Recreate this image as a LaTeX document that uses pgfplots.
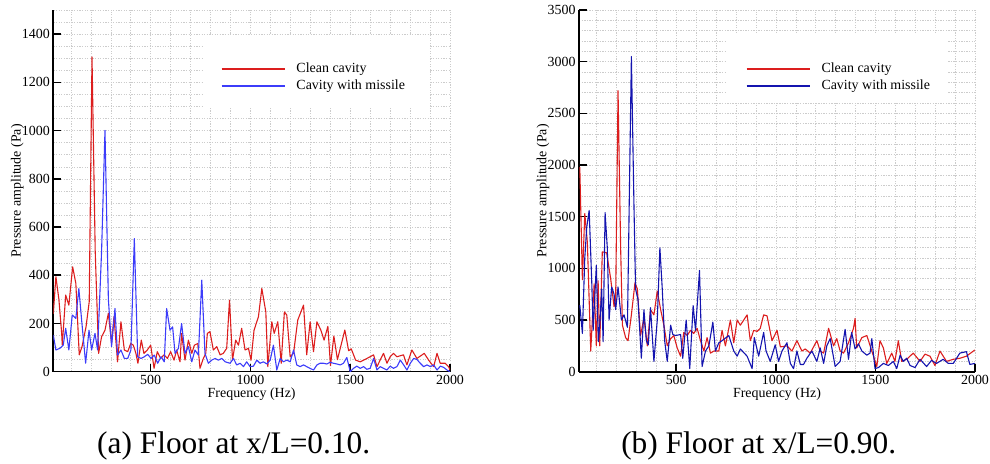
\documentclass[border=0pt]{standalone}
\usepackage{pgfplots}
\pgfplotsset{compat=1.18}
\usepackage{fontspec}
\setmainfont{Liberation Serif}
\definecolor{cred}{RGB}{220,30,30}
\definecolor{cblueL}{RGB}{60,60,250}
\definecolor{cblueR}{RGB}{20,20,175}
\newcommand{\labfont}{\fontsize{14}{16}\selectfont}
\pgfplotsset{
  tecstyle/.style={
    scale only axis,
    axis x line=bottom, axis y line=left,
    axis line style={-, line width=1.6bp, black},
    xmin=12, xmax=2000, ymin=0,
    xtick={500,1000,1500,2000},
    minor xtick={100,200,...,2000},
    tick align=inside,
    major tick length=8bp, minor tick length=0pt,
    every tick/.style={black, line width=1.6bp},
    grid=both,
    grid style={gray!40, line width=0.45bp, dash pattern=on 1.3bp off 1.3bp},
    major grid style={gray!40, line width=0.45bp, dash pattern=on 1.3bp off 1.3bp},
    minor grid style={gray!40, line width=0.45bp, dash pattern=on 1.3bp off 1.3bp},
    /pgf/number format/assume math mode=true,
    /pgf/number format/1000 sep={},
    tick label style={font=\labfont},
    xlabel={Frequency (Hz)},
    ylabel={Pressure amplitude (Pa)},
    every axis x label/.style={at={(axis description cs:0.5,-0.0617)}, anchor=center, font=\labfont},
    every axis y label/.style={at={(axis description cs:-0.0908,0.5)}, rotate=90, anchor=center, font=\labfont},
    legend style={draw=none, fill=none, inner sep=0pt, outer sep=0pt,
      font=\labfont, column sep=11.4bp, row sep=4bp,
      nodes={inner sep=0pt, outer sep=0pt, text height=10bp, text depth=3bp}},
    legend cell align=left,
    legend image code/.code={\draw[#1] (0bp,0bp) -- (63bp,0bp);},
    every axis plot/.append style={line width=1.1bp, line join=round},
  }
}
\begin{document}
\begin{tikzpicture}
\useasboundingbox (0,0) rectangle (990bp,464bp);
% ---------------- left panel ----------------
\begin{axis}[tecstyle, at={(53.3bp,92.3bp)}, anchor=south west,
  width=396.7bp, height=361.7bp, ymax=1500,
  ytick={0,200,...,1400}, minor ytick={0,50,...,1500},
  legend style={at={(axis description cs:0.4227,0.8134)}, anchor=west}]
\fill[white] (axis description cs:0.377,0.729) rectangle (axis description cs:0.950,0.931);
\addplot[cred] coordinates {
(12,240) (25,394) (40,300) (54,159) (57,110) (74,318) (90,276) (109,435) (125,366) (142,70) (156,104) (176,186) (192,290) (206,1305) (222,500) (239,76) (254,145) (271,172) (288,242) (304,117) (316,228) (334,41) (351,207) (368,90) (385,83) (400,117) (413,110) (426,76) (436,35) (453,131) (466,76) (483,90) (500,110) (517,14) (533,83) (550,55) (567,70) (584,55) (600,83) (617,48) (630,90) (647,41) (655,159) (672,48) (689,131) (706,76) (719,110) (736,117) (747,14) (764,55) (776,76) (784,159) (797,166) (814,90) (831,104) (848,70) (864,76) (881,97) (895,297) (910,48) (926,131) (940,110) (956,180) (973,90) (990,97) (1003,48) (1018,172) (1040,228) (1057,345) (1077,248) (1087,21) (1107,207) (1119,159) (1137,207) (1154,35) (1170,248) (1182,235) (1199,62) (1216,76) (1237,214) (1266,276) (1282,70) (1299,207) (1316,83) (1333,207) (1353,172) (1369,131) (1388,188) (1401,25) (1418,148) (1436,50) (1473,173) (1492,87) (1505,95) (1527,48) (1550,41) (1567,48) (1600,62) (1617,70) (1634,21) (1650,48) (1667,76) (1684,35) (1700,62) (1717,76) (1734,62) (1767,70) (1784,28) (1809,90) (1834,55) (1871,76) (1893,48) (1918,21) (1935,76) (1951,35) (1976,35) (1993,21) (2000,7)
};
\addlegendentry{Clean cavity}
\addplot[cblueL] coordinates {
(12,152) (25,90) (45,97) (62,110) (74,180) (90,90) (107,235) (125,221) (140,345) (154,214) (174,35) (191,172) (204,90) (221,159) (234,90) (254,500) (271,1001) (288,300) (304,104) (321,262) (334,69) (351,90) (368,55) (385,55) (401,90) (418,552) (435,62) (451,55) (468,62) (485,72) (502,55) (518,69) (535,35) (552,62) (568,41) (580,262) (597,172) (610,186) (622,76) (639,97) (655,200) (672,76) (689,104) (706,41) (722,90) (739,69) (756,380) (772,76) (789,35) (806,48) (823,55) (839,48) (856,55) (873,41) (898,35) (915,55) (931,28) (948,35) (965,21) (981,41) (998,21) (1015,23) (1032,48) (1048,35) (1065,41) (1082,32) (1099,48) (1115,110) (1132,7) (1149,55) (1165,41) (1182,48) (1199,41) (1216,90) (1232,28) (1249,21) (1266,28) (1282,21) (1299,14) (1316,7) (1333,28) (1349,35) (1366,35) (1383,32) (1399,39) (1416,35) (1433,32) (1450,28) (1466,35) (1483,59) (1500,0) (1517,14) (1533,23) (1550,14) (1567,21) (1583,10) (1600,14) (1617,55) (1634,7) (1650,21) (1667,14) (1684,7) (1700,23) (1717,14) (1734,21) (1751,48) (1768,28) (1784,7) (1801,35) (1818,55) (1834,51) (1851,35) (1868,21) (1885,28) (1902,21) (1918,28) (1935,7) (1952,23) (1968,18) (1985,7) (2000,0)
};
\addlegendentry{Cavity with missile}
\end{axis}
% ---------------- right panel ----------------
\begin{axis}[tecstyle, at={(579bp,92.3bp)}, anchor=south west,
  width=396bp, height=361.7bp, ymax=3500,
  ytick={0,500,...,3500}, minor ytick={0,100,...,3500},
  legend style={at={(axis description cs:0.4217,0.8134)}, anchor=west}]
\fill[white] (axis description cs:0.373,0.746) rectangle (axis description cs:0.932,0.936);
\addplot[cred] coordinates {
(16,1980) (29,890) (41,1530) (54,1250) (71,200) (88,850) (99,250) (108,880) (116,250) (129,1160) (151,1150) (171,900) (188,630) (196,700) (208,2720) (221,1200) (230,450) (246,330) (258,300) (275,550) (293,860) (305,800) (321,350) (338,520) (355,250) (371,600) (388,550) (405,780) (422,600) (438,450) (455,250) (472,320) (488,350) (505,230) (522,150) (538,380) (555,350) (572,400) (588,370) (605,420) (622,300) (639,200) (655,330) (672,180) (689,200) (714,200) (730,400) (747,250) (772,500) (789,280) (806,500) (822,450) (839,500) (856,550) (872,300) (889,400) (906,390) (922,420) (939,550) (956,540) (981,300) (1006,400) (1023,240) (1056,250) (1081,200) (1106,300) (1131,200) (1148,220) (1173,180) (1206,300) (1223,200) (1240,180) (1265,420) (1290,250) (1306,320) (1323,200) (1340,180) (1365,280) (1390,420) (1398,516) (1406,230) (1432,330) (1457,350) (1482,200) (1507,50) (1523,300) (1540,230) (1557,80) (1582,180) (1598,100) (1615,300) (1632,100) (1657,120) (1690,180) (1724,100) (1749,170) (1774,150) (1799,60) (1824,200) (1857,100) (1891,120) (1924,130) (1957,150) (1999,210)
};
\addlegendentry{Clean cavity}
\addplot[cblueR] coordinates {
(16,645) (29,370) (41,1100) (51,1400) (63,1560) (76,870) (83,400) (99,1030) (109,290) (116,450) (126,800) (133,290) (143,1540) (154,1200) (163,500) (176,820) (188,750) (196,600) (208,820) (225,500) (238,550) (255,430) (275,3050) (288,1600) (296,800) (308,700) (325,130) (338,600) (350,300) (360,260) (371,620) (388,100) (405,500) (418,1200) (430,800) (442,300) (455,100) (472,450) (483,360) (497,350) (522,360) (533,130) (550,500) (558,300) (568,30) (585,640) (597,400) (617,980) (630,50) (647,200) (664,250) (684,480) (697,200) (714,280) (730,300) (764,350) (789,200) (806,150) (822,220) (856,150) (881,30) (892,330) (914,150) (939,380) (951,200) (972,100) (997,260) (1014,100) (1031,200) (1056,280) (1073,80) (1089,30) (1106,200) (1123,70) (1139,70) (1156,130) (1181,200) (1206,100) (1223,230) (1240,80) (1256,250) (1273,320) (1298,50) (1323,100) (1348,410) (1365,120) (1381,380) (1398,220) (1415,270) (1432,200) (1457,160) (1473,180) (1482,320) (1498,30) (1515,40) (1540,80) (1565,60) (1590,100) (1607,30) (1624,160) (1640,100) (1657,130) (1674,60) (1699,40) (1724,120) (1757,50) (1782,110) (1807,80) (1840,120) (1866,80) (1891,80) (1924,180) (1957,194) (1974,70) (1999,80)
};
\addlegendentry{Cavity with missile}
\end{axis}
% ---------------- captions ----------------
\node[anchor=base, font=\fontsize{31.5}{34}\selectfont] at (233.7bp,10.7bp) {(a) Floor at x/L=0.10.};
\node[anchor=base, font=\fontsize{31.5}{34}\selectfont] at (758.7bp,10.7bp) {(b) Floor at x/L=0.90.};
\end{tikzpicture}
\end{document}
